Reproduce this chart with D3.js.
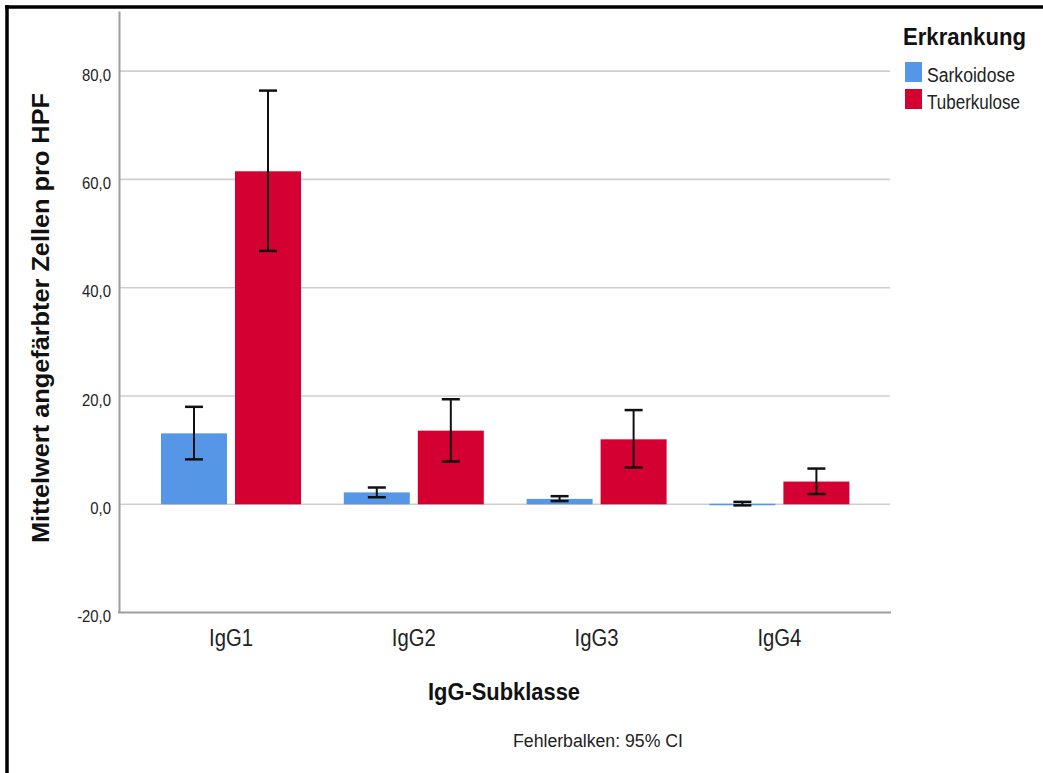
<!DOCTYPE html>
<html>
<head>
<meta charset="utf-8">
<script src="https://cdn.jsdelivr.net/npm/d3@7/dist/d3.min.js"></script>
<style>
  html, body { margin: 0; padding: 0; background: #fff; }
  svg { display: block; font-family: "Liberation Sans", Arial, sans-serif; }
</style>
</head>
<body>
<svg id="chart" width="1043" height="773"></svg>
<script>
// IgG subclasses on the x axis
const categories = ["IgG1", "IgG2", "IgG3", "IgG4"];
// Disease groups (legend)
const series = ["Sarkoidose", "Tuberkulose"];
// Mean number of stained cells per HPF
const sarkoidoseMean = [13.1, 2.2, 1.0, 0.1];
const tuberkuloseMean = [61.5, 13.6, 12.0, 4.2];
// 95% confidence interval bounds
const sarkoidoseLow = [8.3, 1.3, 0.6, -0.2];
const sarkoidoseHigh = [18.0, 3.1, 1.5, 0.45];
const tuberkuloseLow = [46.8, 7.9, 6.8, 1.9];
const tuberkuloseHigh = [76.4, 19.4, 17.4, 6.6];
// Y axis ticks
const yTicks = [-20, 0, 20, 40, 60, 80];

const colors = { Sarkoidose: "#5596e6", Tuberkulose: "#d50032" };

const rows = categories.map((c, i) => ({
  cat: c,
  values: [
    { s: "Sarkoidose", mean: sarkoidoseMean[i], lo: sarkoidoseLow[i], hi: sarkoidoseHigh[i] },
    { s: "Tuberkulose", mean: tuberkuloseMean[i], lo: tuberkuloseLow[i], hi: tuberkuloseHigh[i] }
  ]
}));

const svg = d3.select("#chart");

// Outer frame (top and left edges)
svg.append("line").attr("x1", 5).attr("x2", 1043).attr("y1", 7).attr("y2", 7)
  .attr("stroke", "#000").attr("stroke-width", 3.5);
svg.append("line").attr("x1", 7).attr("x2", 7).attr("y1", 5).attr("y2", 773)
  .attr("stroke", "#000").attr("stroke-width", 3.5);

const plotLeft = 119, plotRight = 891;
const y = d3.scaleLinear().domain([-20, 91.1]).range([612.6, 11]);

const x0 = d3.scaleBand().domain(categories).range([139.6, 870.8])
  .paddingInner(0.234).paddingOuter(0.117);
const x1 = d3.scaleBand().domain(series).range([0, x0.bandwidth()]).paddingInner(0.108);

// Gridlines
svg.append("g").selectAll("line")
  .data(yTicks.filter(t => t > -20))
  .join("line")
  .attr("x1", plotLeft).attr("x2", plotRight - 1)
  .attr("y1", d => y(d)).attr("y2", d => y(d))
  .attr("stroke", "#cfcfcf").attr("stroke-width", 1.6);

// Y axis with tick labels (decimal comma, plain hyphen for negatives)
const fmt = d => d.toFixed(1).replace(".", ",");
const yAxis = svg.append("g")
  .attr("transform", `translate(${plotLeft},0)`)
  .call(d3.axisLeft(y).tickValues(yTicks).tickFormat(fmt).tickSize(0).tickPadding(8));
yAxis.select(".domain").attr("stroke", "#9e9e9e").attr("stroke-width", 2);
yAxis.selectAll("text")
  .attr("font-size", 16.5).attr("fill", "#222").attr("font-family", "Liberation Sans, Arial, sans-serif")
  .attr("dy", "0.55em")
  .each(function () {
    const w = this.getComputedTextLength();
    d3.select(this).attr("textLength", w * 0.9).attr("lengthAdjust", "spacingAndGlyphs");
  });

// X axis line
svg.append("line")
  .attr("x1", plotLeft - 1).attr("x2", plotRight)
  .attr("y1", y(-20)).attr("y2", y(-20))
  .attr("stroke", "#9e9e9e").attr("stroke-width", 2);

// Bars
const groups = svg.append("g").selectAll("g")
  .data(rows).join("g")
  .attr("transform", d => `translate(${x0(d.cat)},0)`);

groups.selectAll("rect")
  .data(d => d.values).join("rect")
  .attr("x", d => x1(d.s))
  .attr("width", x1.bandwidth())
  .attr("y", d => Math.min(y(d.mean), y(0)))
  .attr("height", d => Math.max(Math.abs(y(0) - y(d.mean)), 1.5))
  .attr("fill", d => colors[d.s]);

// Error bars (95% CI)
const capW = 18;
const eb = groups.selectAll("g.err")
  .data(d => d.values).join("g").attr("class", "err");
eb.append("line")
  .attr("x1", d => x1(d.s) + x1.bandwidth() / 2).attr("x2", d => x1(d.s) + x1.bandwidth() / 2)
  .attr("y1", d => y(d.hi)).attr("y2", d => y(d.lo))
  .attr("stroke", "#111").attr("stroke-width", 2);
eb.append("line")
  .attr("x1", d => x1(d.s) + x1.bandwidth() / 2 - capW / 2).attr("x2", d => x1(d.s) + x1.bandwidth() / 2 + capW / 2)
  .attr("y1", d => y(d.hi)).attr("y2", d => y(d.hi))
  .attr("stroke", "#111").attr("stroke-width", 2.5);
eb.append("line")
  .attr("x1", d => x1(d.s) + x1.bandwidth() / 2 - capW / 2).attr("x2", d => x1(d.s) + x1.bandwidth() / 2 + capW / 2)
  .attr("y1", d => y(d.lo)).attr("y2", d => y(d.lo))
  .attr("stroke", "#111").attr("stroke-width", 2.5);

// Category labels
svg.append("g").selectAll("text")
  .data(categories).join("text")
  .attr("x", d => x0(d) + x0.bandwidth() / 2)
  .attr("y", 646)
  .attr("text-anchor", "middle")
  .attr("font-size", 23).attr("fill", "#222")
  .attr("textLength", 44).attr("lengthAdjust", "spacingAndGlyphs")
  .text(d => d);

// Axis titles
svg.append("text")
  .attr("x", 504).attr("y", 700).attr("text-anchor", "middle")
  .attr("font-size", 23).attr("font-weight", "bold").attr("fill", "#111")
  .attr("textLength", 152).attr("lengthAdjust", "spacingAndGlyphs")
  .text("IgG-Subklasse");

svg.append("text")
  .attr("transform", "translate(49,318) rotate(-90)")
  .attr("text-anchor", "middle")
  .attr("font-size", 24).attr("font-weight", "bold").attr("fill", "#111")
  .attr("textLength", 450).attr("lengthAdjust", "spacingAndGlyphs")
  .text("Mittelwert angefärbter Zellen pro HPF");

svg.append("text")
  .attr("x", 598).attr("y", 747).attr("text-anchor", "middle")
  .attr("font-size", 18).attr("fill", "#222")
  .attr("textLength", 170).attr("lengthAdjust", "spacingAndGlyphs")
  .text("Fehlerbalken: 95% CI");

// Legend
const legend = svg.append("g");
legend.append("text")
  .attr("x", 903).attr("y", 45)
  .attr("font-size", 23).attr("font-weight", "bold").attr("fill", "#111")
  .attr("textLength", 123).attr("lengthAdjust", "spacingAndGlyphs")
  .text("Erkrankung");
const legendWidths = [88, 93];
const li = legend.selectAll("g.item").data(series).join("g").attr("class", "item")
  .attr("transform", (d, i) => `translate(905,${62 + i * 27})`);
li.append("rect").attr("width", 17).attr("height", 20).attr("fill", d => colors[d]);
li.append("text")
  .attr("x", 22).attr("y", 20)
  .attr("font-size", 20).attr("fill", "#222")
  .attr("textLength", (d, i) => legendWidths[i]).attr("lengthAdjust", "spacingAndGlyphs")
  .text(d => d);
</script>
</body>
</html>
